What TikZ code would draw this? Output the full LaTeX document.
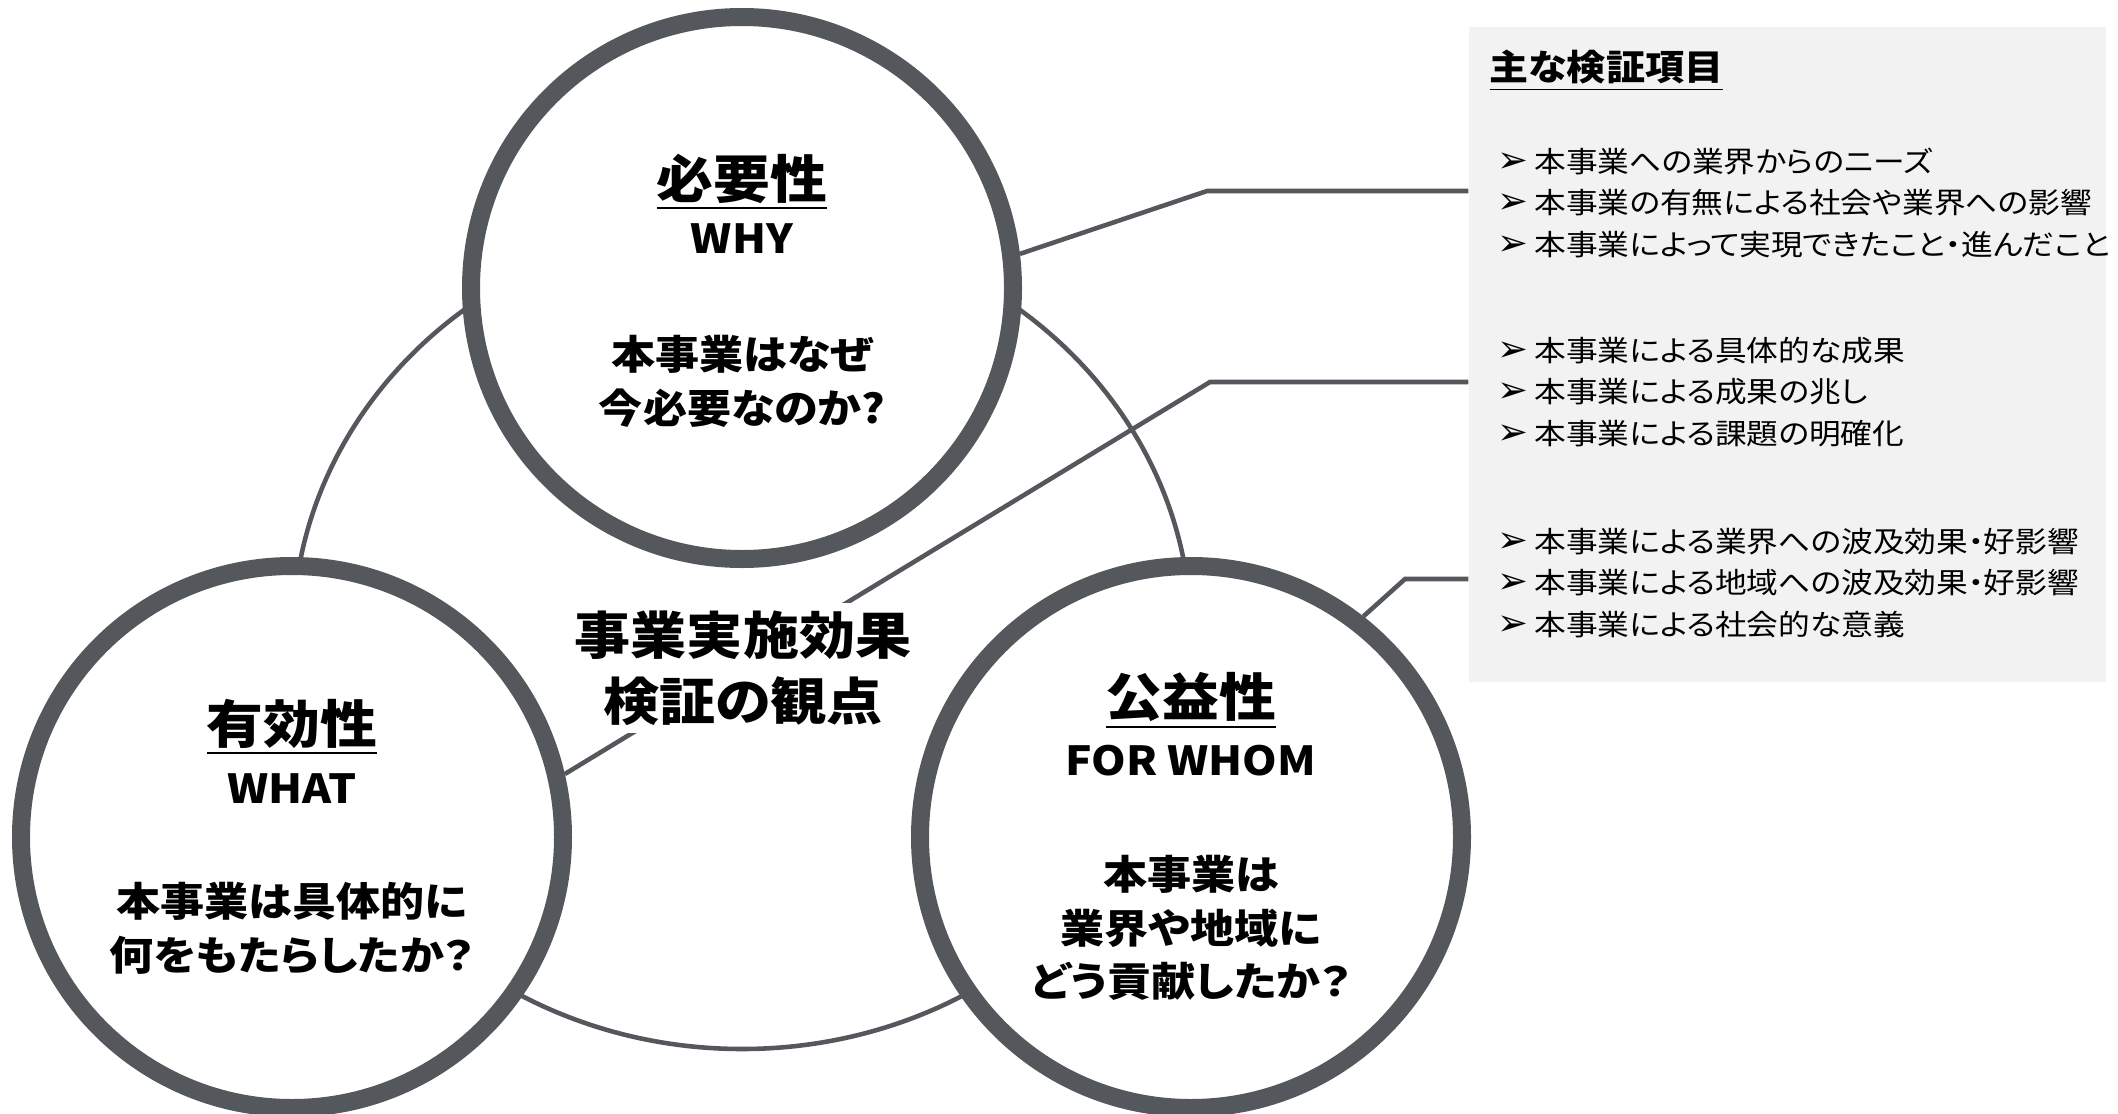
\documentclass[tikz,border=0pt]{standalone}
\usepackage{fontspec}
\setmainfont{Noto Sans CJK JP}[FakeStretch=1.1,RawFeature=+palt]
\newfontfamily\symfont{DejaVu Sans}
\definecolor{ringgray}{RGB}{84,87,91}
\definecolor{panelgray}{RGB}{242,242,242}
\newcommand{\mk}{{\symfont\fontsize{10.5}{10.5}\selectfont ➢}\hspace{0.2em}}
\tikzset{%
    ring/.style={circle,draw=ringgray,line width=0.18cm,fill=white,minimum size=5.42cm,inner sep=0pt},
    link/.style={draw=ringgray,line width=1.3pt},
    panel/.style={fill=panelgray,minimum width=6.37cm,minimum height=6.55cm,inner sep=0pt},
    head/.style={inner sep=0pt,font=\bfseries\fontsize{14.7}{17}\selectfont},
    tag/.style={inner sep=0pt,font=\bfseries\fontsize{11.4}{14}\selectfont},
    ask/.style={inner sep=0pt,align=center,font=\bfseries\fontsize{11.4}{15.3}\selectfont},
    core/.style={fill=white,inner xsep=0.2cm,inner ysep=0.08cm,align=center,font=\bfseries\fontsize{14.5}{18.8}\selectfont},
    boxhead/.style={inner sep=0pt,anchor=west,font=\bfseries\fontsize{10.1}{12}\selectfont},
    items/.style={inner sep=0pt,anchor=west,align=left,font=\fontsize{8.2}{11.8}\selectfont}
}
\begin{document}
\begin{tikzpicture}
    \useasboundingbox (0,0) rectangle (21.18,11.13);

    \node[panel] (panel) at (17.875,7.585) {};
    \draw[link] (7.42,4.78) ellipse (4.49cm and 4.14cm);

    \node[ring] (why) at (7.42,8.25) {};
    \node[ring] (what) at (2.92,2.76) {};
    \node[ring] (whom) at (11.91,2.76) {};

    \coordinate (k1) at (12.07,9.22);
    \coordinate (k2) at (12.10,7.31);
    \coordinate (k3) at (14.05,5.34);
    \draw[link] (why.7) -- (k1) -- (k1 -| panel.west);
    \draw[link] (what.13) -- (k2) -- (k2 -| panel.west);
    \draw[link] (whom.52) -- (k3) -- (k3 -| panel.west);

    \node[core] (core) at (7.43,4.45) {事業実施効果\\検証の観点};

    \node[head] (why-h) at (7.42,9.31) {\underline{必要性}};
    \node[tag] (why-en) at (7.42,8.74) {WHY};
    \node[ask] (why-q) at (7.42,7.315) {本事業はなぜ\\今必要なのか?};

    \node[head] (what-h) at (2.92,3.86) {\underline{有効性}};
    \node[tag] (what-en) at (2.92,3.24) {WHAT};
    \node[ask] (what-q) at (2.92,1.845) {本事業は具体的に\\何をもたらしたか？};

    \node[head] (whom-h) at (11.91,4.12) {\underline{公益性}};
    \node[tag] (whom-en) at (11.91,3.52) {FOR WHOM};
    \node[ask] (whom-q) at (11.91,1.85) {本事業は\\業界や地域に\\どう貢献したか？};

    \node[boxhead] (panel-h) at (14.89,10.42) {\underline{主な検証項目}};
    \node[items] (g1) at (14.97,9.10) {\mk 本事業への業界からのニーズ\\\mk 本事業の有無による社会や業界への影響\\\mk 本事業によって実現できたこと・進んだこと};
    \node[items] (g2) at (14.97,7.21) {\mk 本事業による具体的な成果\\\mk 本事業による成果の兆し\\\mk 本事業による課題の明確化};
    \node[items] (g3) at (14.97,5.30) {\mk 本事業による業界への波及効果・好影響\\\mk 本事業による地域への波及効果・好影響\\\mk 本事業による社会的な意義};
\end{tikzpicture}
\end{document}
